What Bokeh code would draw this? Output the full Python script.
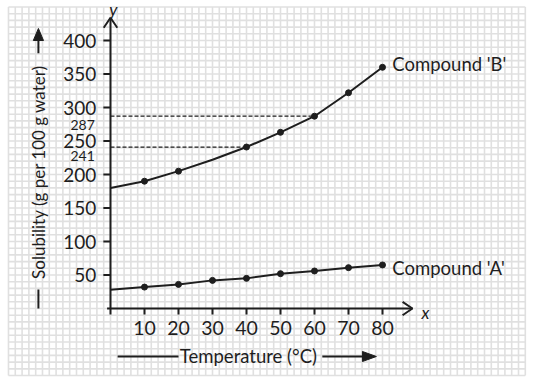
import numpy as np
from bokeh.plotting import figure
from bokeh.models import Range1d
from bokeh.core.properties import value
from bokeh.embed import file_html
from bokeh.resources import INLINE

# Solubility data (g per 100 g water)
temp_b = [0, 10, 20, 30, 40, 50, 60, 70, 80]
sol_b = [180, 190, 205, 222, 241, 263, 287, 322, 360]
mark_b_x = [10, 20, 40, 50, 60, 70, 80]
mark_b_y = [190, 205, 241, 263, 287, 322, 360]

temp_a = [0, 10, 20, 30, 40, 50, 60, 70, 80]
sol_a = [28, 32, 36, 42, 45, 52, 56, 61, 65]
mark_a_x = [10, 20, 30, 40, 50, 60, 70, 80]
mark_a_y = [32, 36, 42, 45, 52, 56, 61, 65]

x_ticks = [10, 20, 30, 40, 50, 60, 70, 80]
y_ticks = [50, 100, 150, 200, 250, 300, 350, 400]
read_temps = [40, 60]
read_vals = [241, 287]

FONT = value("Lato")
INK = "#1e1e1e"

p = figure(width=535, height=383, output_backend="svg", toolbar_location=None,
           x_range=Range1d(-32.35, 125.0), y_range=Range1d(-111.9, 459.7),
           min_border=0, outline_line_color=None, background_fill_color="white")
p.axis.visible = False
p.grid.visible = False

# graph paper background
gx = np.arange(-30, 123, 2)
gy = np.arange(-100, 451, 10)
p.segment(x0=gx, y0=-100, x1=gx, y1=450, line_color="#e0e0e0", line_width=1.6)
p.segment(x0=-30, y0=gy, x1=122, y1=gy, line_color="#e0e0e0", line_width=1.6)

# axes
p.line(x=[0, 0], y=[-9, 434], line_color=INK, line_width=2)
p.line(x=[-2, 0, 2], y=[419, 434, 419], line_color=INK, line_width=2)
p.line(x=[-1, 88.8], y=[0, 0], line_color=INK, line_width=2)
p.line(x=[85.9, 88.8, 85.9], y=[10, 0, -10], line_color=INK, line_width=2)
p.segment(x0=-2.1, y0=y_ticks, x1=0, y1=y_ticks, line_color=INK, line_width=2)
p.segment(x0=x_ticks, y0=0, x1=x_ticks, y1=-9, line_color=INK, line_width=2)

p.text(x=-4.2, y=y_ticks, text=[str(v) for v in y_ticks], text_font=FONT,
       text_font_size="19px", text_align="right", text_baseline="middle", text_color=INK)
p.text(x=x_ticks, y=-28.5, text=[str(v) for v in x_ticks], text_font=FONT,
       text_font_size="19.5px", text_align="center", text_baseline="middle", text_color=INK)
p.text(x=[0.8], y=[447], text=["y"], text_font=FONT, text_font_style="italic",
       text_font_size="17px", text_align="center", text_baseline="alphabetic", text_color=INK)
p.text(x=[92.6], y=[-6], text=["x"], text_font=FONT, text_font_style="italic",
       text_font_size="17px", text_align="center", text_baseline="alphabetic", text_color=INK)

# reading lines
for t, v in zip(read_temps, read_vals):
    p.line(x=[0, t], y=[v, v], line_color=INK, line_width=1.3, line_dash="4 2")
p.text(x=-8.2, y=[v - 13 for v in read_vals], text=[str(v) for v in read_vals], text_font=FONT,
       text_font_size="14px", text_align="center", text_baseline="middle", text_color=INK)

# curves
p.line(x=temp_b, y=sol_b, line_color=INK, line_width=2)
p.scatter(x=mark_b_x, y=mark_b_y, size=6, color=INK)
p.line(x=temp_a, y=sol_a, line_color=INK, line_width=2)
p.scatter(x=mark_a_x, y=mark_a_y, size=6, color=INK)

p.text(x=[82.9, 82.9], y=[sol_b[-1] + 5, sol_a[-1] - 4], text=["Compound 'B'", "Compound 'A'"],
       text_font=FONT, text_font_size="18.5px", text_align="left", text_baseline="middle",
       text_color=INK)

# axis titles with arrows
p.line(x=[2.1, 20.0], y=[-71.6, -71.6], line_color=INK, line_width=2)
p.text(x=[20.4], y=[-71.6], text=["Temperature (°C)"], text_font=FONT, text_font_size="18.5px",
       text_align="left", text_baseline="middle", text_color=INK)
p.line(x=[62.3, 75], y=[-71.6, -71.6], line_color=INK, line_width=2)
p.patch(x=[74.1, 78.2, 74.1], y=[-64.1, -71.6, -79.1], color=INK)

p.line(x=[-21.2, -21.2], y=[0, 28.4], line_color=INK, line_width=2)
p.text(x=[-21.2], y=[204], text=["Solubility (g per 100 g water)"], angle=np.pi / 2,
       text_font=FONT, text_font_size="17px", text_align="center", text_baseline="middle",
       text_color=INK)
p.line(x=[-21.2, -21.2], y=[381, 402], line_color=INK, line_width=2)
p.patch(x=[-22.7, -21.2, -19.7], y=[400, 418, 400], color=INK)

open("out.html", "w").write(file_html(p, INLINE))
